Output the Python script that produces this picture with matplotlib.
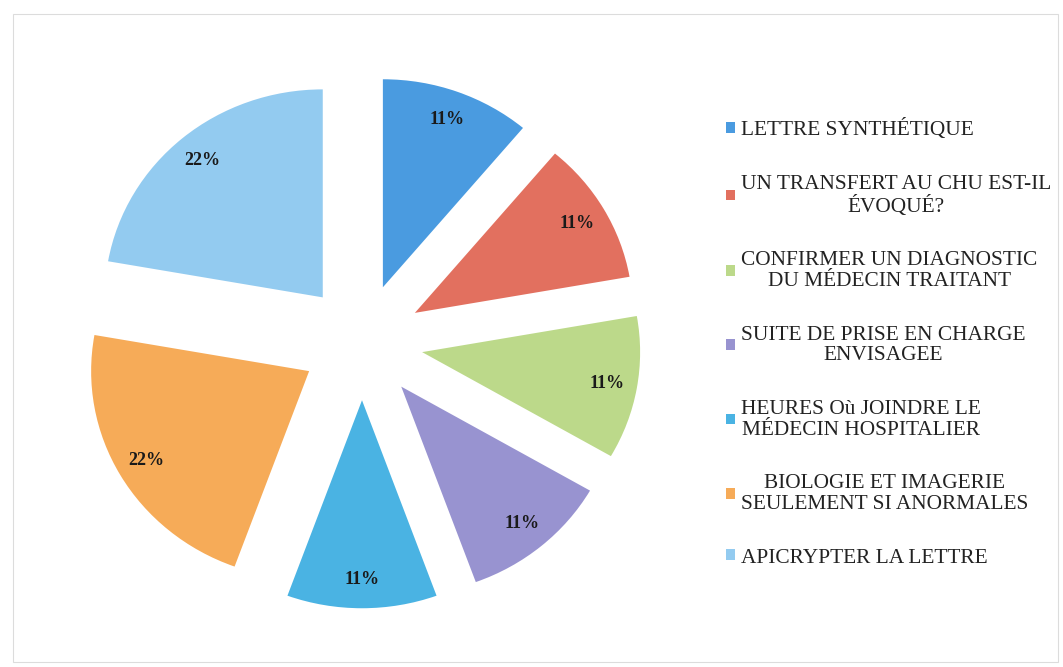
import matplotlib
matplotlib.use("Agg")
import matplotlib.pyplot as plt
from matplotlib.patches import Rectangle

categories = [
    "LETTRE SYNTHÉTIQUE",
    "UN TRANSFERT AU CHU EST-IL\nÉVOQUÉ?",
    "CONFIRMER UN DIAGNOSTIC\nDU MÉDECIN TRAITANT",
    "SUITE DE PRISE EN CHARGE\nENVISAGEE",
    "HEURES Où JOINDRE LE\nMÉDECIN HOSPITALIER",
    "BIOLOGIE ET IMAGERIE\nSEULEMENT SI ANORMALES",
    "APICRYPTER LA LETTRE",
]
values = [11, 11, 11, 11, 11, 22, 22]
colors = ["#4a9be0", "#e2705f", "#bcd98a", "#9893d0", "#4ab3e3", "#f6ab58", "#93cbf0"]

W, H = 1063, 667
fig = plt.figure(figsize=(W / 100, H / 100), dpi=100)
fig.patch.set_facecolor("white")
ax = fig.add_axes([0, 0, 1, 1])

wedges, texts, autotexts = ax.pie(
    values,
    colors=colors,
    startangle=90,
    counterclock=False,
    explode=[0.28] * len(values),
    autopct="%1.0f%%",
    pctdistance=0.86,
    wedgeprops=dict(linewidth=0),
    textprops=dict(family="Liberation Serif", fontsize=13, color="#1a1a1a",
                   weight="bold"),
)

# pie centre at (362, 342) px, radius ~218 px horizontally, ~208 px vertically
cx, cy = 362, 342
rx, ry = 218, 208
ax.set_xlim(-cx / rx, (W - cx) / rx)
ax.set_ylim(-(H - cy) / ry, cy / ry)
ax.set_aspect("auto")
ax.axis("off")

leg = fig.legend(
    wedges,
    categories,
    loc="upper left",
    bbox_to_anchor=(726 / W, 1 - 119 / H),
    frameon=False,
    borderpad=0,
    borderaxespad=0,
    handlelength=0.4,
    handleheight=0.4,
    handletextpad=0.3,
    labelspacing=1.62,
    prop=dict(family="Liberation Serif", size=15.4),
)
for t in leg.get_texts():
    t.set_multialignment("center")
    t.set_linespacing(1.12)
    t.set_color("#222222")

fig.add_artist(Rectangle((13 / W, 5 / H), 1045 / W, 648 / H, transform=fig.transFigure,
                         fill=False, edgecolor="#dcdcdc", linewidth=0.8))

fig.savefig("out.png", dpi=100, facecolor="white")
